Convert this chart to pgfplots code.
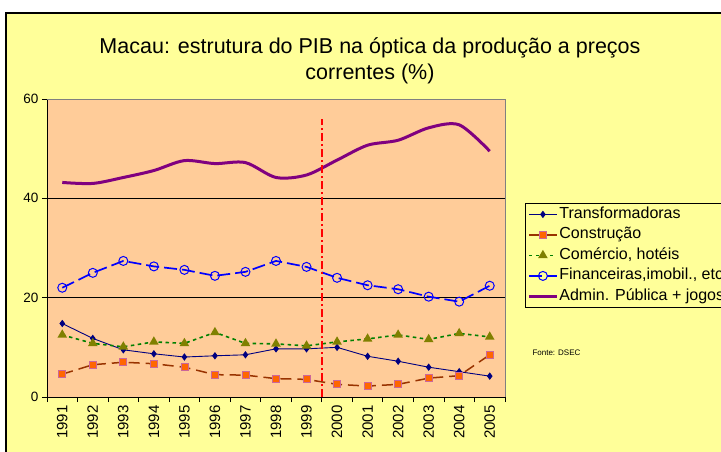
\documentclass[border=0pt]{standalone}
\usepackage{pgfplots}
\pgfplotsset{compat=1.18}
\usepackage{fontspec}
\setmainfont{Liberation Sans}
\definecolor{bgyellow}{HTML}{FFFF99}
\definecolor{plotpeach}{HTML}{FFCC99}
\definecolor{navy}{HTML}{000080}
\definecolor{brickbrown}{HTML}{993300}
\definecolor{orangefill}{HTML}{FF6600}
\definecolor{greenline}{HTML}{008000}
\definecolor{olivemark}{HTML}{808000}
\definecolor{bluefin}{HTML}{0000FF}
\definecolor{purpleadm}{HTML}{800080}
\definecolor{sqborder}{HTML}{CC6699}
\definecolor{pure red}{HTML}{FF0000}
\begin{document}
\begin{tikzpicture}
\useasboundingbox (0pt,0pt) rectangle (721pt,-451pt);
\fill[white] (0pt,0pt) rectangle (721pt,-451pt);
\filldraw[fill=bgyellow, draw=black, line width=2pt] (6pt,-13pt) rectangle (745pt,-475pt);
\node[align=center, font=\fontsize{21.5}{25.5}\selectfont] at (370pt,-61pt) {Macau: estrutura do PIB na óptica da produção a preços\\correntes (\%)};
\node[anchor=west, font=\fontsize{8}{9}\selectfont] at (529pt,-353pt) {Fonte: DSEC};
\begin{axis}[
  at={(47pt,-397pt)}, anchor=south west,
  scale only axis, width=458pt, height=298pt,
  xmin=-0.5, xmax=14.5, ymin=0, ymax=60,
  axis lines*=left,
  axis line style={black, line width=0.8pt},
  axis background/.style={fill=plotpeach, draw=gray},
  xtick={0,...,14},
  xticklabels={1991,1992,1993,1994,1995,1996,1997,1998,1999,2000,2001,2002,2003,2004,2005},
  minor xtick={-0.5,0.5,...,14.5},
  major x tick style={draw=none},
  minor x tick style={black, line width=0.8pt},
  y tick style={black, line width=0.8pt},
  tick align=outside,
  major tick length=5pt, minor tick length=5pt,
  ytick={0,20,40,60},
  ymajorgrids,
  grid style={black, line width=0.6pt},
  x tick label style={rotate=90, anchor=east, font=\fontsize{15}{17}\selectfont},
  y tick label style={font=\fontsize{13.5}{15}\selectfont},
  /pgf/number format/assume math mode=true,
  legend style={at={(1.0437,0.651)}, anchor=north west, draw=black, line width=0.8pt, fill=none,
    font=\fontsize{16}{18}\selectfont, row sep=2.5pt, inner sep=2pt,
    nodes={inner sep=1pt, text height=12pt, text depth=4pt}},
  legend cell align=left,
  legend image code/.code={\draw[mark repeat=2,mark phase=2,#1] plot coordinates {(0pt,0pt) (14pt,0pt) (28pt,0pt)};},
  clip=false,
]
\addplot[navy, line width=0.9pt, mark=diamond*, mark size=3pt, mark options={solid, fill=navy, draw=navy}] coordinates {
(0,14.8)(1,11.8)(2,9.5)(3,8.7)(4,8.05)(5,8.3)(6,8.5)(7,9.7)(8,9.7)(9,10.0)(10,8.2)(11,7.2)(12,6.0)(13,5.1)(14,4.2)};
\addlegendentry{Transformadoras}
\addplot[brickbrown, line width=1.5pt, dash pattern=on 11pt off 6pt, mark=square*, mark size=3.5pt, mark options={solid, fill=orangefill, draw=sqborder, line width=0.8pt}] coordinates {
(0,4.6)(1,6.5)(2,7.0)(3,6.7)(4,6.0)(5,4.5)(6,4.4)(7,3.7)(8,3.55)(9,2.55)(10,2.2)(11,2.55)(12,3.8)(13,4.3)(14,8.5)};
\addlegendentry{Construção}
\addplot[greenline, line width=1.6pt, dash pattern=on 3.5pt off 3.5pt, mark=triangle*, mark size=4pt, mark options={solid, fill=olivemark, draw=olivemark}] coordinates {
(0,12.5)(1,10.8)(2,10.1)(3,11.1)(4,10.8)(5,13.0)(6,10.8)(7,10.7)(8,10.3)(9,11.1)(10,11.7)(11,12.5)(12,11.6)(13,12.8)(14,12.1)};
\addlegendentry{Comércio, hotéis}
\addplot[bluefin, line width=1.7pt, dash pattern=on 13pt off 5pt, mark=o, mark size=4.5pt, mark options={solid, draw=bluefin, line width=1pt}] coordinates {
(0,22.0)(1,25.0)(2,27.4)(3,26.3)(4,25.6)(5,24.4)(6,25.2)(7,27.4)(8,26.2)(9,24.0)(10,22.5)(11,21.7)(12,20.2)(13,19.2)(14,22.4)};
\addlegendentry{Financeiras,imobil., etc}
\addplot[purpleadm, line width=3pt, smooth, no markers] coordinates {
(0,43.2)(1,43.0)(2,44.2)(3,45.6)(4,47.6)(5,47.0)(6,47.2)(7,44.2)(8,44.7)(9,47.7)(10,50.7)(11,51.7)(12,54.2)(13,54.8)(14,49.5)};
\addlegendentry{Admin. Pública + jogos}
\addplot[draw=pure red, line width=1.4pt, dash pattern=on 8pt off 3pt on 2pt off 3pt, forget plot] coordinates {(8.5,0)(8.5,56)};
\draw[gray, line width=0.8pt] (rel axis cs:0,1) -- (rel axis cs:1,1) -- (rel axis cs:1,0);
\end{axis}
\end{tikzpicture}
\end{document}
